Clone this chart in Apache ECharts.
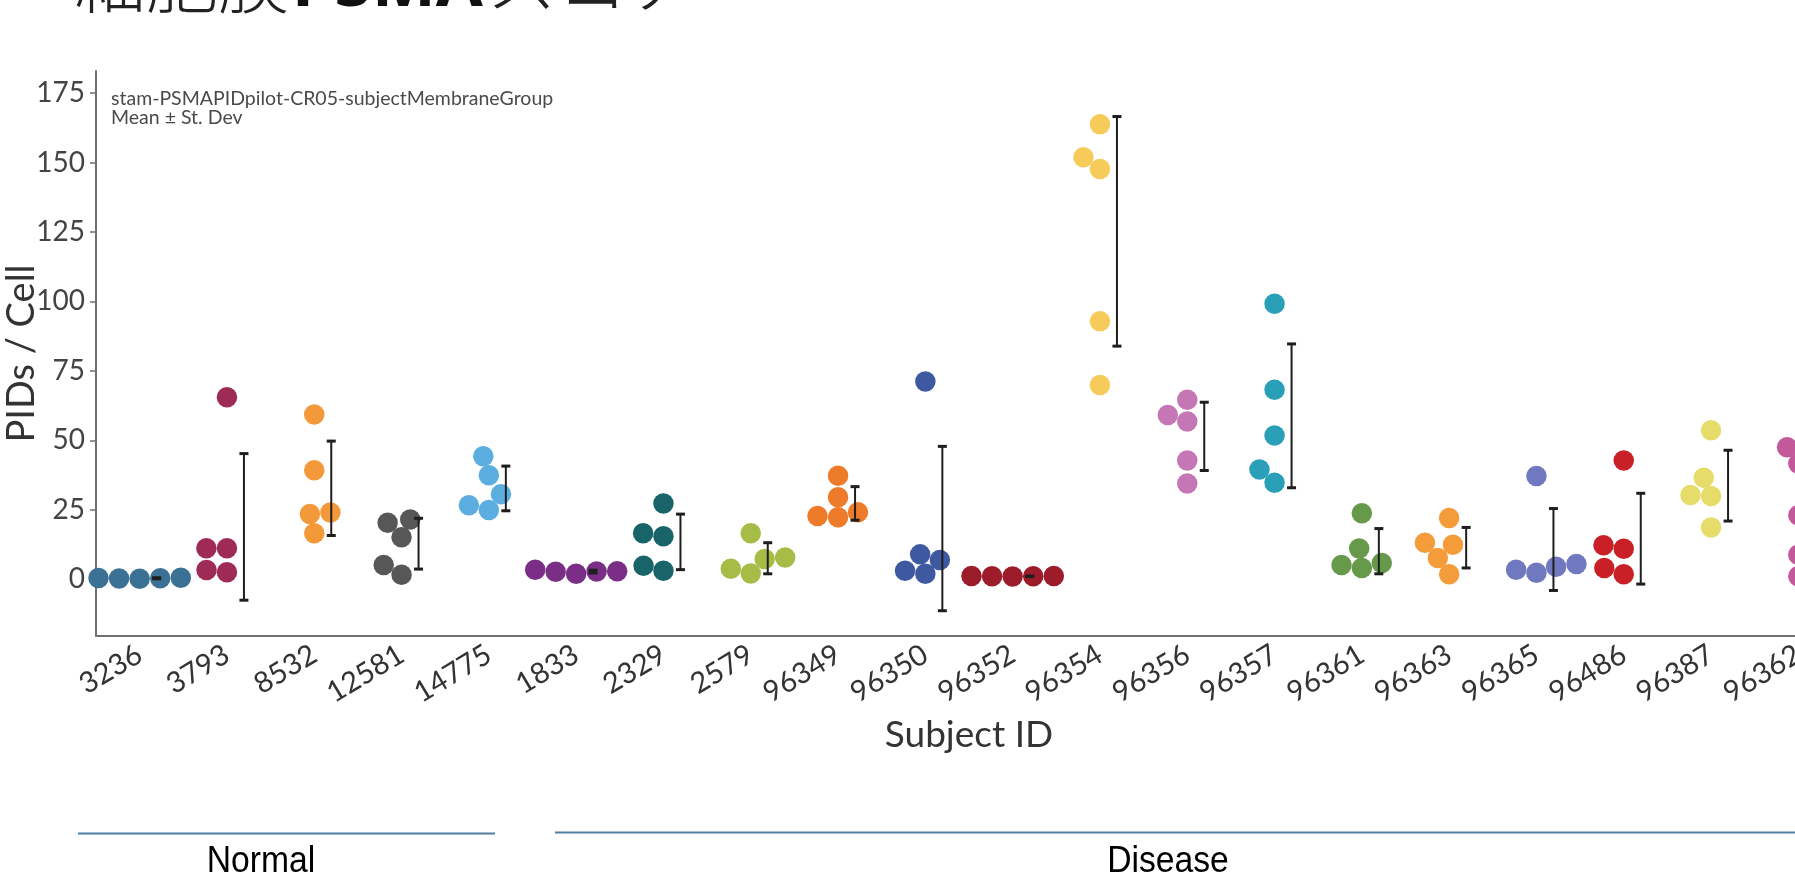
<!DOCTYPE html>
<html>
<head>
<meta charset="utf-8">
<script src="https://cdn.jsdelivr.net/npm/echarts@6/dist/echarts.min.js"></script>
<style>
html,body{margin:0;padding:0;background:#fff;}
#chart{width:1795px;height:877px;}
</style>
</head>
<body>
<div id="chart"></div>
<script>
// ---------- data ----------
const categories = ['3236','3793','8532','12581','14775','1833','2329','2579','96349','96350',
  '96352','96354','96356','96357','96361','96363','96365','96486','96387','96362'];

const s3236  = [0.3, 0.2, 0.1, 0.4, 0.5];
const s3793  = [65.5, 11.1, 11.1, 3.3, 2.5];
const s8532  = [59.3, 39.2, 24.0, 23.4, 16.5];
const s12581 = [21.5, 20.3, 15.1, 5.1, 1.6];
const s14775 = [44.2, 37.4, 30.6, 26.6, 24.9];
const s1833  = [3.4, 2.8, 1.9, 2.6, 2.7];
const s2329  = [27.2, 16.5, 15.4, 4.8, 3.0];
const s2579  = [16.5, 7.8, 7.2, 3.7, 2.0];
const s96349 = [37.2, 29.5, 24.1, 22.7, 22.3];
const s96350 = [71.2, 8.9, 6.9, 3.0, 1.9];
const s96352 = [1.1, 1.0, 0.9, 1.0, 1.1];
const s96354 = [163.8, 151.9, 147.7, 92.9, 69.9];
const s96356 = [64.6, 59.1, 56.8, 42.7, 34.4];
const s96357 = [99.2, 68.2, 51.7, 39.5, 34.7];
const s96361 = [23.7, 11.0, 5.8, 5.1, 4.0];
const s96363 = [22.0, 13.1, 12.4, 7.6, 1.7];
const s96365 = [37.1, 5.4, 4.4, 3.4, 2.3];
const s96486 = [42.7, 12.2, 10.9, 4.0, 1.7];
const s96387 = [53.6, 36.5, 30.3, 29.9, 18.6];
const s96362 = [47.5, 41.6, 23.0, 8.8, 1.0];

const subjectValues = [s3236, s3793, s8532, s12581, s14775, s1833, s2329, s2579, s96349, s96350,
  s96352, s96354, s96356, s96357, s96361, s96363, s96365, s96486, s96387, s96362];

// mean - SD and mean + SD (error bar ends)
const errLow  = [0.1, -7.6, 15.7, 3.6, 24.6, 2.2, 3.4, 1.9, 21.2, -11.4,
  0.9, 83.9, 39.1, 32.9, 1.9, 4.0, -4.1, -1.8, 20.9, 4.3];
const errHigh = [0.5, 45.2, 49.7, 21.9, 40.7, 3.2, 23.4, 13.1, 33.3, 47.8,
  1.1, 166.6, 63.7, 84.7, 18.2, 18.6, 25.4, 30.9, 46.4, 44.5];

const yTicks = [0, 25, 50, 75, 100, 125, 150, 175];

// ---------- styles ----------
const colors = ['#3b7194','#9e2a56','#f4993a','#575757','#5cade0','#7a2e86','#196468','#a5bd47',
  '#ee7b29','#3f59a0','#9d1c2b','#f6cb5a','#c577b5','#2a9fb8','#66994a','#f49b3a','#7078bf',
  '#c91f27','#e5dc69','#c3599a'];

const GRID = {left: 96, top: 71, width: 1746, height: 565};
const Y_MIN = -20.5, Y_MAX = 183;
const DOT_SIZE = 20.5;   // drawn dot diameter (px)
const DOT_D = 19.6;      // swarm collision diameter (px)
const ERR_DX = 17;       // error bar offset from category centre (px)
const FONT = 'Lato, "Noto Sans", sans-serif';

// ---------- swarm layout (seaborn-like) ----------
const pxPerUnit = GRID.height / (Y_MAX - Y_MIN);
function swarmOffsets(vals) {
  const order = vals.map((v, i) => i).sort((a, b) => vals[a] - vals[b]);
  const placed = [];
  const out = new Array(vals.length).fill(0);
  order.forEach(i => {
    const y = vals[i] * pxPerUnit;
    const nb = placed.filter(p => Math.abs(p.y - y) < DOT_D);
    const cands = [0];
    let leftFirst = true;
    nb.forEach(p => {
      const d = Math.sqrt(Math.max(DOT_D * DOT_D - (y - p.y) * (y - p.y), 0)) * 1.05;
      if (leftFirst) cands.push(p.x - d, p.x + d); else cands.push(p.x + d, p.x - d);
      leftFirst = !leftFirst;
    });
    const sorted = cands.map((c, k) => [c, k])
      .sort((a, b) => (Math.abs(a[0]) - Math.abs(b[0])) || (a[1] - b[1]));
    let x = 0;
    for (const [c] of sorted) {
      if (nb.every(p => (c - p.x) * (c - p.x) + (y - p.y) * (y - p.y) >= DOT_D * DOT_D * 0.995)) { x = c; break; }
    }
    placed.push({x, y});
    out[i] = x;
  });
  return out;
}

const dotData = [];
subjectValues.forEach((vals, ci) => {
  const off = swarmOffsets(vals);
  vals.forEach((v, k) => dotData.push([ci, v, off[k]]));
});
const errData = categories.map((c, i) => [i, errLow[i], errHigh[i]]);

const chart = echarts.init(document.getElementById('chart'), null, {renderer: 'canvas'});

const CJK = '"Noto Sans CJK JP", sans-serif';
const option = {
  backgroundColor: '#fff',
  animation: false,
  grid: Object.assign({outerBoundsMode: 'none', containLabel: false}, GRID),
  xAxis: {
    type: 'category',
    data: categories,
    boundaryGap: true,
    name: 'Subject ID',
    nameLocation: 'middle',
    nameGap: 81,
    nameMoveOverlap: false,
    nameTextStyle: {fontFamily: FONT, fontSize: 37, color: '#333'},
    axisLine: {onZero: false, lineStyle: {color: '#707070', width: 2}},
    axisTick: {alignWithLabel: true, length: 6, lineStyle: {color: '#707070', width: 1.5}},
    axisLabel: {rotate: 31, margin: 16, fontFamily: FONT, fontSize: 29, color: '#333', interval: 0},
    splitLine: {show: false}
  },
  yAxis: {
    type: 'value',
    min: Y_MIN,
    max: Y_MAX,
    name: 'PIDs / Cell',
    nameLocation: 'middle',
    nameGap: 55,
    nameMoveOverlap: false,
    nameTextStyle: {fontFamily: FONT, fontSize: 38, color: '#333'},
    axisLine: {show: true, onZero: false, lineStyle: {color: '#707070', width: 2}},
    axisTick: {show: true, length: 6, customValues: yTicks, lineStyle: {color: '#707070', width: 1.5}},
    axisLabel: {customValues: yTicks, margin: 11, fontFamily: FONT, fontSize: 28, color: '#444'},
    splitLine: {show: false}
  },
  series: [
    {
      type: 'custom',
      name: 'dots',
      clip: false,
      z: 2,
      encode: {x: 0, y: 1},
      data: dotData,
      renderItem: function (params, api) {
        const ci = api.value(0);
        const p = api.coord([ci, api.value(1)]);
        return {
          type: 'circle',
          shape: {cx: p[0] + api.value(2), cy: p[1], r: DOT_SIZE / 2},
          style: {fill: colors[ci]}
        };
      }
    },
    {
      type: 'custom',
      name: 'sd',
      clip: false,
      z: 3,
      encode: {x: 0, y: [1, 2]},
      data: errData,
      renderItem: function (params, api) {
        const ci = api.value(0);
        const lo = api.coord([ci, api.value(1)]);
        const hi = api.coord([ci, api.value(2)]);
        const x = lo[0] + ERR_DX;
        const st = {stroke: '#1e1e1e', lineWidth: 2};
        const cap = {stroke: '#1e1e1e', lineWidth: 3};
        return {
          type: 'group',
          children: [
            {type: 'line', shape: {x1: x, y1: lo[1], x2: x, y2: hi[1]}, style: st},
            {type: 'line', shape: {x1: x - 4.5, y1: hi[1], x2: x + 4.5, y2: hi[1]}, style: cap},
            {type: 'line', shape: {x1: x - 4.5, y1: lo[1], x2: x + 4.5, y2: lo[1]}, style: cap}
          ]
        };
      }
    }
  ],
  graphic: [
    {
      type: 'text', x: 74, y: 16, z: 10,
      style: {text: '細胞膜', fontFamily: CJK, fontWeight: 300, fontSize: 72, fill: '#222',
        textAlign: 'left', textVerticalAlign: 'bottom'}
    },
    {
      type: 'text', x: 292, y: 21, z: 10,
      style: {text: 'PSMA', fontFamily: '"Noto Sans", sans-serif', fontWeight: 'bold', fontSize: 68, fill: '#111',
        textAlign: 'left', textVerticalAlign: 'bottom'}
    },
    {
      type: 'text', x: 486, y: 16, z: 10,
      style: {text: 'スコア', fontFamily: CJK, fontWeight: 300, fontSize: 71, fill: '#222',
        textAlign: 'left', textVerticalAlign: 'bottom'}
    },
    {
      type: 'text', left: 111, top: 89, z: 10,
      style: {text: 'stam-PSMAPIDpilot-CR05-subjectMembraneGroup', fontFamily: FONT, fontSize: 19.5, fill: '#4a4a4a'}
    },
    {
      type: 'text', left: 111, top: 108, z: 10,
      style: {text: 'Mean \u00b1 St. Dev', fontFamily: FONT, fontSize: 19.5, fill: '#4a4a4a'}
    },
    {
      type: 'line', z: 10,
      shape: {x1: 78, y1: 833.5, x2: 495, y2: 833.5},
      style: {stroke: '#4f7fa3', lineWidth: 2}
    },
    {
      type: 'line', z: 10,
      shape: {x1: 555, y1: 832.5, x2: 1795, y2: 832.5},
      style: {stroke: '#4f7fa3', lineWidth: 2}
    },
    {
      type: 'text', x: 261, y: 862, scaleX: 0.91, z: 10,
      style: {text: 'Normal', fontFamily: '"Liberation Sans", sans-serif', fontSize: 37, fill: '#000',
        textAlign: 'center', textVerticalAlign: 'middle'}
    },
    {
      type: 'text', x: 1168, y: 862, scaleX: 0.91, z: 10,
      style: {text: 'Disease', fontFamily: '"Liberation Sans", sans-serif', fontSize: 37, fill: '#000',
        textAlign: 'center', textVerticalAlign: 'middle'}
    }
  ]
};
chart.setOption(option);
</script>
</body>
</html>
